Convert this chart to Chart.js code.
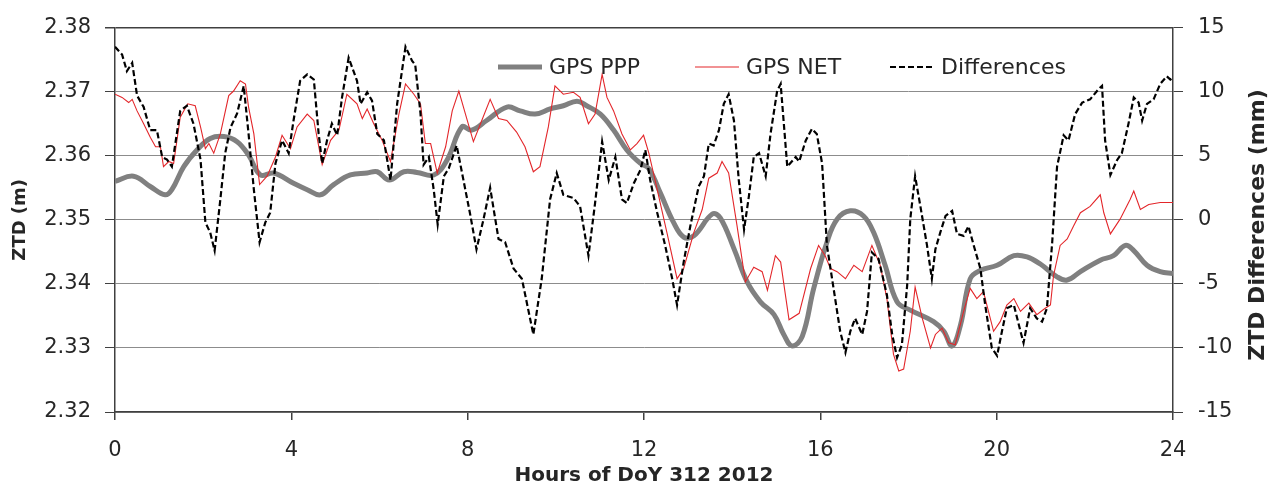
<!DOCTYPE html>
<html>
<head>
<meta charset="utf-8">
<title>ZTD GPS PPP vs GPS NET</title>
<script src="https://cdn.jsdelivr.net/npm/chart.js@4"></script>
<style>
  html, body { margin: 0; padding: 0; background: #fff; }
  canvas { display: block; }
</style>
</head>
<body>
<canvas id="ztdChart" width="1270" height="486"></canvas>
<script>
// tick labels
const hourTicks = [0, 4, 8, 12, 16, 20, 24];
const ztdTicks = [2.32, 2.33, 2.34, 2.35, 2.36, 2.37, 2.38];
const diffTicks = [-15, -10, -5, 0, 5, 10, 15];

// GPS PPP (m)
const pppHours = [
  0, 0.42, 0.80, 1.14, 1.29, 1.56, 1.86, 2.16, 2.47, 2.77,
  3.03, 3.30, 3.60, 4.05, 4.36, 4.66, 4.96, 5.34, 5.72, 5.95,
  6.22, 6.55, 6.85, 7.23, 7.53, 7.87, 8.09, 8.43, 8.89, 9.19,
  9.53, 9.87, 10.17, 10.48, 10.70, 11.01, 11.31, 11.61, 11.92, 12.11,
  12.37, 12.67, 12.90, 13.13, 13.55, 13.73, 14.04, 14.34, 14.64, 14.95,
  15.17, 15.36, 15.59, 15.85, 16.15, 16.38, 16.68, 16.98, 17.21, 17.47,
  17.74, 18.04, 18.57, 18.80, 18.99, 19.18, 19.40, 19.63, 20.01, 20.39,
  20.69, 20.99, 21.37, 21.60, 21.90, 22.35, 22.65, 22.92, 23.11, 23.41,
  23.71, 24.0
];
const pppZtd = [
  2.3560, 2.3568, 2.3552, 2.3539, 2.3547, 2.3583, 2.3609, 2.3627, 2.3630, 2.3622,
  2.3601, 2.3570, 2.3573, 2.3557, 2.3547, 2.3539, 2.3555, 2.3570, 2.3573, 2.3575,
  2.3562, 2.3575, 2.3574, 2.3570, 2.3593, 2.3645, 2.3640, 2.3655, 2.3676, 2.3670,
  2.3665, 2.3673, 2.3678, 2.3685, 2.3678, 2.3665, 2.3640, 2.3609, 2.3588, 2.3580,
  2.3542, 2.3496, 2.3473, 2.3475, 2.3509, 2.3503, 2.3455, 2.3403, 2.3372, 2.3352,
  2.3321, 2.3303, 2.3318, 2.3393, 2.3465, 2.3501, 2.3514, 2.3506, 2.3480, 2.3429,
  2.3372, 2.3359, 2.3341, 2.3326, 2.3303, 2.3336, 2.3408, 2.3421, 2.3429, 2.3444,
  2.3442, 2.3431, 2.3411, 2.3406, 2.3419, 2.3437, 2.3444, 2.3460, 2.3452, 2.3429,
  2.3419, 2.3416
];

// GPS NET (m)
const netHours = [
  0, 0.16, 0.31, 0.39, 0.50, 0.65, 0.80, 0.92, 1.03, 1.10,
  1.22, 1.33, 1.48, 1.65, 1.82, 1.94, 2.05, 2.13, 2.24, 2.39,
  2.58, 2.69, 2.84, 2.96, 3.03, 3.15, 3.28, 3.45, 3.64, 3.79,
  3.98, 4.13, 4.36, 4.51, 4.70, 4.89, 5.08, 5.26, 5.49, 5.61,
  5.72, 5.87, 6.06, 6.25, 6.44, 6.59, 6.78, 6.93, 7.04, 7.16,
  7.31, 7.50, 7.65, 7.80, 7.95, 8.13, 8.32, 8.51, 8.70, 8.89,
  9.11, 9.30, 9.49, 9.64, 9.83, 9.98, 10.17, 10.40, 10.55, 10.74,
  10.89, 11.05, 11.16, 11.31, 11.50, 11.69, 11.84, 11.99, 12.11, 12.30,
  12.52, 12.75, 12.90, 13.13, 13.32, 13.47, 13.66, 13.77, 13.92, 14.11,
  14.30, 14.49, 14.68, 14.80, 14.98, 15.10, 15.29, 15.52, 15.78, 15.96,
  16.11, 16.23, 16.38, 16.57, 16.76, 16.95, 17.17, 17.36, 17.51, 17.66,
  17.78, 17.89, 18.04, 18.15, 18.31, 18.50, 18.61, 18.76, 18.91, 19.06,
  19.25, 19.40, 19.55, 19.70, 19.93, 20.08, 20.23, 20.39, 20.54, 20.73,
  20.91, 21.10, 21.22, 21.29, 21.44, 21.60, 21.75, 21.90, 22.12, 22.35,
  22.43, 22.58, 22.80, 23.03, 23.11, 23.26, 23.45, 23.71, 24.0
];
const netZtd = [
  2.3696, 2.3691, 2.3683, 2.3688, 2.3670, 2.3650, 2.3629, 2.3614, 2.3614, 2.3583,
  2.3591, 2.3588, 2.3660, 2.3681, 2.3678, 2.3645, 2.3611, 2.3619, 2.3604, 2.3634,
  2.3694, 2.3701, 2.3717, 2.3712, 2.3676, 2.3634, 2.3555, 2.3568, 2.3598, 2.3632,
  2.3611, 2.3645, 2.3665, 2.3655, 2.3586, 2.3624, 2.3640, 2.3696, 2.3681, 2.3658,
  2.3673, 2.3650, 2.3624, 2.3591, 2.3665, 2.3712, 2.3696, 2.3681, 2.3619, 2.3619,
  2.3573, 2.3614, 2.3670, 2.3701, 2.3665, 2.3622, 2.3655, 2.3688, 2.3658, 2.3655,
  2.3637, 2.3614, 2.3575, 2.3583, 2.3645, 2.3709, 2.3696, 2.3699, 2.3691, 2.3650,
  2.3665, 2.3727, 2.3691, 2.3670, 2.3634, 2.3609, 2.3619, 2.3632, 2.3604, 2.3547,
  2.3480, 2.3408, 2.3424, 2.3480, 2.3516, 2.3565, 2.3573, 2.3591, 2.3573, 2.3491,
  2.3403, 2.3426, 2.3419, 2.3390, 2.3444, 2.3434, 2.3344, 2.3354, 2.3424, 2.3460,
  2.3444, 2.3424, 2.3419, 2.3408, 2.3429, 2.3419, 2.3460, 2.3429, 2.3377, 2.3290,
  2.3264, 2.3267, 2.3326, 2.3395, 2.3347, 2.3300, 2.3321, 2.3331, 2.3308, 2.3305,
  2.3357, 2.3393, 2.3377, 2.3388, 2.3326, 2.3341, 2.3367, 2.3377, 2.3357, 2.3370,
  2.3352, 2.3362, 2.3367, 2.3413, 2.3460, 2.3470, 2.3491, 2.3511, 2.3521, 2.3539,
  2.3511, 2.3478, 2.3501, 2.3532, 2.3545, 2.3516, 2.3524, 2.3527, 2.3527
];

// Differences (mm), right axis
const diffHours = [
  0, 0.16, 0.27, 0.39, 0.50, 0.65, 0.80, 0.95, 1.07, 1.18,
  1.29, 1.48, 1.63, 1.78, 1.94, 2.05, 2.16, 2.26, 2.39, 2.50,
  2.62, 2.77, 2.92, 3.03, 3.15, 3.28, 3.41, 3.52, 3.64, 3.79,
  3.94, 4.05, 4.20, 4.36, 4.51, 4.62, 4.70, 4.81, 4.92, 5.04,
  5.15, 5.30, 5.49, 5.57, 5.72, 5.83, 5.95, 6.10, 6.25, 6.40,
  6.59, 6.74, 6.81, 6.93, 7.00, 7.12, 7.23, 7.32, 7.46, 7.57,
  7.75, 8.05, 8.20, 8.36, 8.51, 8.70, 8.85, 9.04, 9.23, 9.49,
  9.68, 9.87, 10.02, 10.17, 10.40, 10.55, 10.74, 10.89, 11.05, 11.20,
  11.35, 11.50, 11.61, 11.77, 11.92, 12.03, 12.14, 12.30, 12.48, 12.64,
  12.75, 12.90, 13.05, 13.24, 13.36, 13.47, 13.58, 13.70, 13.81, 13.92,
  14.04, 14.15, 14.27, 14.38, 14.49, 14.61, 14.76, 14.87, 15.02, 15.10,
  15.25, 15.44, 15.52, 15.67, 15.81, 15.92, 16.04, 16.15, 16.30, 16.45,
  16.57, 16.68, 16.79, 16.95, 17.06, 17.17, 17.32, 17.51, 17.63, 17.74,
  17.85, 17.97, 18.04, 18.15, 18.27, 18.42, 18.53, 18.61, 18.72, 18.84,
  18.99, 19.10, 19.25, 19.36, 19.48, 19.63, 19.74, 19.89, 20.01, 20.12,
  20.23, 20.39, 20.54, 20.61, 20.76, 20.91, 21.03, 21.14, 21.26, 21.37,
  21.52, 21.63, 21.78, 21.94, 22.12, 22.31, 22.39, 22.46, 22.58, 22.73,
  22.84, 22.99, 23.11, 23.22, 23.30, 23.41, 23.56, 23.71, 23.86, 23.94,
  24.0
];
const diffMm = [
  13.5, 12.9, 11.6, 12.25, 9.7, 8.8, 7.0, 7.0, 4.9, 4.7,
  4.15, 8.5, 8.9, 7.5, 4.7, -0.2, -1.0, -2.4, 1.6, 5.2,
  7.2, 8.3, 10.45, 6.7, 2.35, -1.75, -0.2, 0.55, 4.4, 6.2,
  5.2, 7.75, 10.85, 11.35, 10.95, 6.7, 4.4, 6.2, 7.5, 6.6,
  9.55, 12.65, 10.85, 9.05, 9.95, 9.3, 6.7, 6.2, 3.1, 9.05,
  13.5, 12.4, 12.1, 8.3, 4.3, 4.9, 2.35, -0.35, 3.4, 4.0,
  5.8, 0.55, -2.3, 0.05, 2.5, -1.5, -1.75, -3.8, -4.6, -8.95,
  -4.6, 1.6, 3.65, 1.95, 1.7, 1.05, -2.8, 1.3, 6.1, 3.1,
  4.9, 1.6, 1.3, 2.85, 3.9, 5.45, 3.1, 0.55, -2.0, -4.6,
  -6.65, -3.3, -0.5, 2.6, 3.4, 5.95, 5.8, 7.0, 9.05, 9.8,
  7.75, 3.1, -0.75, 1.85, 4.9, 5.2, 3.4, 6.7, 10.05, 10.6,
  4.15, 4.9, 4.55, 6.2, 7.1, 6.7, 4.4, -2.0, -5.35, -8.7,
  -10.35, -8.7, -7.7, -8.95, -7.15, -2.55, -3.05, -5.85, -8.95, -10.75,
  -9.75, -5.1, 0.05, 3.4, 1.05, -2.0, -4.6, -2.3, -1.0, 0.3,
  0.7, -1.1, -1.25, -0.5, -2.0, -3.8, -6.65, -10.0, -10.6, -8.7,
  -6.9, -6.65, -8.7, -9.6, -6.9, -7.7, -7.95, -6.9, -1.75, 4.15,
  6.6, 6.2, 8.25, 9.15, 9.4, 10.2, 10.45, 6.2, 3.5, 4.65,
  5.2, 7.5, 9.55, 9.15, 7.75, 9.05, 9.4, 10.6, 11.2, 10.95,
  11.1
];

const toPoints = (xs, ys) => xs.map((x, i) => ({ x: x, y: ys[i] }));

const TEXT = '#262626';
const AXIS = '#404040';
const GRID = '#8c8c8c';
Chart.defaults.font.family = "'DejaVu Sans', sans-serif";
Chart.defaults.color = TEXT;

// legend inside the plot + right title reading upwards
const overlay = {
  id: 'overlay',
  afterDraw(chart) {
    const ctx = chart.ctx;
    const legendX = [498, 695, 890];
    const legendY = 67;
    ctx.save();
    ctx.font = "22px 'DejaVu Sans'";
    ctx.textBaseline = 'middle';
    ctx.textAlign = 'left';
    chart.data.datasets.forEach((ds, i) => {
      const x0 = legendX[i];
      ctx.strokeStyle = ds.borderColor;
      ctx.lineWidth = ds.borderWidth;
      ctx.setLineDash(ds.borderDash || []);
      ctx.beginPath();
      ctx.moveTo(x0, legendY);
      ctx.lineTo(x0 + 44, legendY);
      ctx.stroke();
      ctx.setLineDash([]);
      ctx.fillStyle = TEXT;
      ctx.fillText(ds.label, x0 + 51, legendY + 1);
    });
    ctx.translate(1258, 225);
    ctx.rotate(-Math.PI / 2);
    ctx.font = "bold 22px 'DejaVu Sans'";
    ctx.textAlign = 'center';
    ctx.fillText('ZTD Differences (mm)', 0, 0);
    ctx.restore();
  }
};

new Chart(document.getElementById('ztdChart'), {
  type: 'line',
  data: {
    datasets: [
      {
        label: 'GPS PPP',
        data: toPoints(pppHours, pppZtd),
        yAxisID: 'y',
        borderColor: '#808080',
        borderWidth: 5,
        tension: 0.4,
        order: 2
      },
      {
        label: 'GPS NET',
        data: toPoints(netHours, netZtd),
        yAxisID: 'y',
        borderColor: '#e3262a',
        borderWidth: 1.1,
        tension: 0,
        order: 1
      },
      {
        label: 'Differences',
        data: toPoints(diffHours, diffMm),
        yAxisID: 'y2',
        borderColor: '#000000',
        borderWidth: 2.2,
        borderDash: [6, 3],
        tension: 0,
        order: 0
      }
    ]
  },
  options: {
    responsive: false,
    animation: false,
    devicePixelRatio: 1,
    elements: { point: { radius: 0 } },
    layout: { padding: { top: 22, left: 0, right: 0, bottom: 0 } },
    plugins: { legend: { display: false }, tooltip: { enabled: false } },
    scales: {
      x: {
        type: 'linear',
        min: 0,
        max: 24,
        afterBuildTicks: s => { s.ticks = hourTicks.map(v => ({ value: v })); },
        afterFit: s => { s.height = 74; },
        ticks: { font: { size: 21 }, padding: 18, maxRotation: 0 },
        grid: { drawOnChartArea: false, tickLength: 8, tickColor: AXIS, lineWidth: 1.5 },
        border: { color: AXIS, width: 1.5 },
        title: {
          display: true,
          text: 'Hours of DoY 312 2012',
          font: { size: 20, weight: 'bold' },
          padding: { top: 0, bottom: -2 }
        }
      },
      y: {
        position: 'left',
        min: 2.32,
        max: 2.38,
        afterBuildTicks: s => { s.ticks = ztdTicks.map(v => ({ value: v })); },
        afterFit: s => { s.width = 115; },
        ticks: { font: { size: 21 }, padding: 14, callback: v => v.toFixed(2) },
        grid: {
          color: c => (c.index === ztdTicks.length - 1 ? AXIS : GRID),
          lineWidth: c => (c.index === ztdTicks.length - 1 ? 1.5 : 1),
          tickLength: 10,
          tickColor: AXIS
        },
        border: { color: AXIS, width: 1.5 },
        title: {
          display: true,
          text: 'ZTD (m)',
          font: { size: 18, weight: 'bold' },
          padding: { top: 10, bottom: 0 }
        }
      },
      y2: {
        position: 'right',
        min: -15,
        max: 15,
        afterBuildTicks: s => { s.ticks = diffTicks.map(v => ({ value: v })); },
        afterFit: s => { s.width = 97; },
        ticks: { font: { size: 21 }, padding: 15 },
        grid: { drawOnChartArea: false, tickLength: 10, tickColor: AXIS },
        border: { color: AXIS, width: 1.5 }
      }
    }
  },
  plugins: [overlay]
});
</script>
</body>
</html>
